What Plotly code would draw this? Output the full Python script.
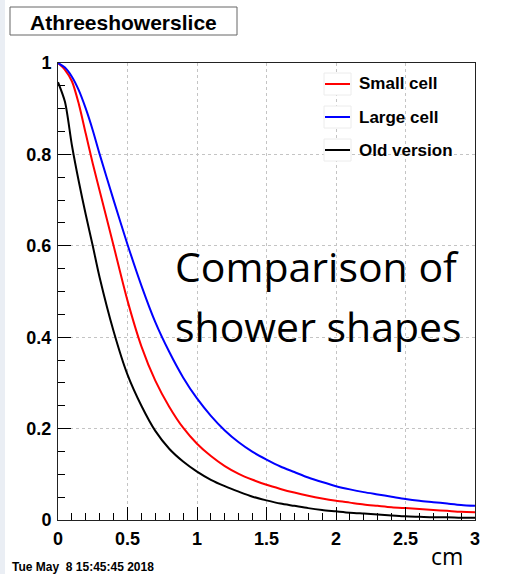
import plotly.graph_objects as go

# Shower profile: fraction of energy vs. transverse distance (cm)
x_cm = [0.0, 0.05, 0.1, 0.15, 0.2, 0.25, 0.3, 0.4, 0.5, 0.6, 0.7, 0.8, 0.9, 1.0,
        1.1, 1.2, 1.3, 1.4, 1.5, 1.6, 1.7, 1.8, 1.9, 2.0,
        2.1, 2.2, 2.3, 2.4, 2.5, 2.6, 2.7, 2.8, 2.9, 3.0]
small_cell = [1.0, 0.985, 0.96, 0.91, 0.845, 0.78, 0.72, 0.60, 0.48, 0.38, 0.305,
              0.248, 0.202, 0.167, 0.140, 0.118, 0.101, 0.088, 0.077, 0.068, 0.060,
              0.053, 0.047, 0.042, 0.038, 0.034, 0.031, 0.028, 0.026, 0.024, 0.022,
              0.020, 0.018, 0.017]
large_cell = [1.0, 0.99, 0.97, 0.94, 0.90, 0.853, 0.80, 0.70, 0.603, 0.513, 0.433,
              0.368, 0.312, 0.266, 0.228, 0.196, 0.170, 0.149, 0.132, 0.117, 0.105,
              0.093, 0.083, 0.074, 0.067, 0.061, 0.056, 0.051, 0.046, 0.042, 0.039,
              0.036, 0.033, 0.031]
old_version = [0.958, 0.915, 0.82, 0.74, 0.668, 0.60, 0.53, 0.413, 0.318, 0.25, 0.195,
               0.156, 0.128, 0.106, 0.088, 0.074, 0.062, 0.051, 0.043, 0.036, 0.031,
               0.026, 0.022, 0.019, 0.016, 0.014, 0.012, 0.010, 0.008, 0.007, 0.006,
               0.006, 0.005, 0.005]

series_names = ["Small cell", "Large cell", "Old version"]
series_values = [small_cell, large_cell, old_version]
series_colors = ["#ff0000", "#0000ff", "#000000"]

title_text = "Athreeshowerslice"
date_text = "Tue May&nbsp; 8 15:45:45 2018"
unit_text = "cm"
note_lines = ["Comparison of", "shower shapes"]

W, H = 519, 574
L, R, T, B = 58, 475, 63, 520


def px(xp):
    return (xp - L) / (R - L)


def py(yp):
    return (B - yp) / (B - T)


fig = go.Figure()
for name, vals, col in zip(series_names, series_values, series_colors):
    fig.add_trace(go.Scatter(x=x_cm, y=vals, mode="lines", name=name,
                             line=dict(color=col, width=2, shape="spline", smoothing=0.8),
                             showlegend=False))

tick_font = dict(family="Liberation Sans", size=18, color="black", weight="bold")
common = dict(ticks="inside", ticklen=13, tickcolor="black", showline=True,
              linecolor="#222222", linewidth=1, mirror=True, showgrid=True,
              gridcolor="#c4c4c4", griddash="dot", zeroline=False,
              tickfont=tick_font, ticklabelstandoff=2)
fig.update_xaxes(range=[0, 3], dtick=0.5, tick0=0,
                 minor=dict(ticks="inside", ticklen=7, dtick=0.1, tickcolor="black",
                            showgrid=False), **common)
fig.update_yaxes(range=[0, 1], dtick=0.2, tick0=0,
                 minor=dict(ticks="inside", ticklen=7, dtick=0.05, tickcolor="black",
                            showgrid=False), **common)

shapes = [
    # light strip along the left edge of the canvas
    dict(type="rect", xref="paper", yref="paper", x0=px(0), x1=px(5), y0=py(H), y1=py(0),
         fillcolor="#eaeef4", line=dict(width=0), layer="below"),
    # title box
    dict(type="rect", xref="paper", yref="paper", x0=px(10), x1=px(237), y0=py(35), y1=py(7),
         fillcolor="white", line=dict(color="#666666", width=1)),
]
annotations = [
    dict(text=title_text, xref="paper", yref="paper", x=px(123.5), y=py(22),
         xanchor="center", yanchor="middle", showarrow=False,
         font=dict(family="Liberation Sans", size=21, color="black", weight="bold")),
    dict(text=date_text, xref="paper", yref="paper", x=px(10), y=py(567),
         xanchor="left", yanchor="middle", showarrow=False,
         font=dict(family="Liberation Sans", size=12, color="black", weight="bold")),
    dict(text=unit_text, xref="paper", yref="paper", x=px(447), y=py(556),
         xanchor="center", yanchor="middle", showarrow=False,
         font=dict(family="Open Sans", size=23, color="black")),
]
for i, line in enumerate(note_lines):
    annotations.append(dict(text=line, xref="paper", yref="paper", x=px(173), y=py(266 + 60 * i),
                            xanchor="left", yanchor="middle", showarrow=False,
                            font=dict(family="Open Sans", size=41, color="black")))

# legend entries
for i, (name, col) in enumerate(zip(series_names, series_colors)):
    yc = 84 + 33 * i
    shapes.append(dict(type="rect", xref="paper", yref="paper", x0=px(324), x1=px(351),
                       y0=py(yc + 11), y1=py(yc - 11), fillcolor="white",
                       line=dict(color="#ececec", width=1)))
    shapes.append(dict(type="line", xref="paper", yref="paper", x0=px(325), x1=px(350),
                       y0=py(yc), y1=py(yc), line=dict(color=col, width=2)))
    annotations.append(dict(text=name, xref="paper", yref="paper", x=px(357), y=py(yc),
                            xanchor="left", yanchor="middle", showarrow=False,
                            font=dict(family="Liberation Sans", size=17, color="black",
                                      weight="bold")))

fig.update_layout(width=W, height=H, margin=dict(l=L, r=W - R, t=T, b=H - B),
                  paper_bgcolor="white", plot_bgcolor="white",
                  shapes=shapes, annotations=annotations)

fig.write_html("out.html")
